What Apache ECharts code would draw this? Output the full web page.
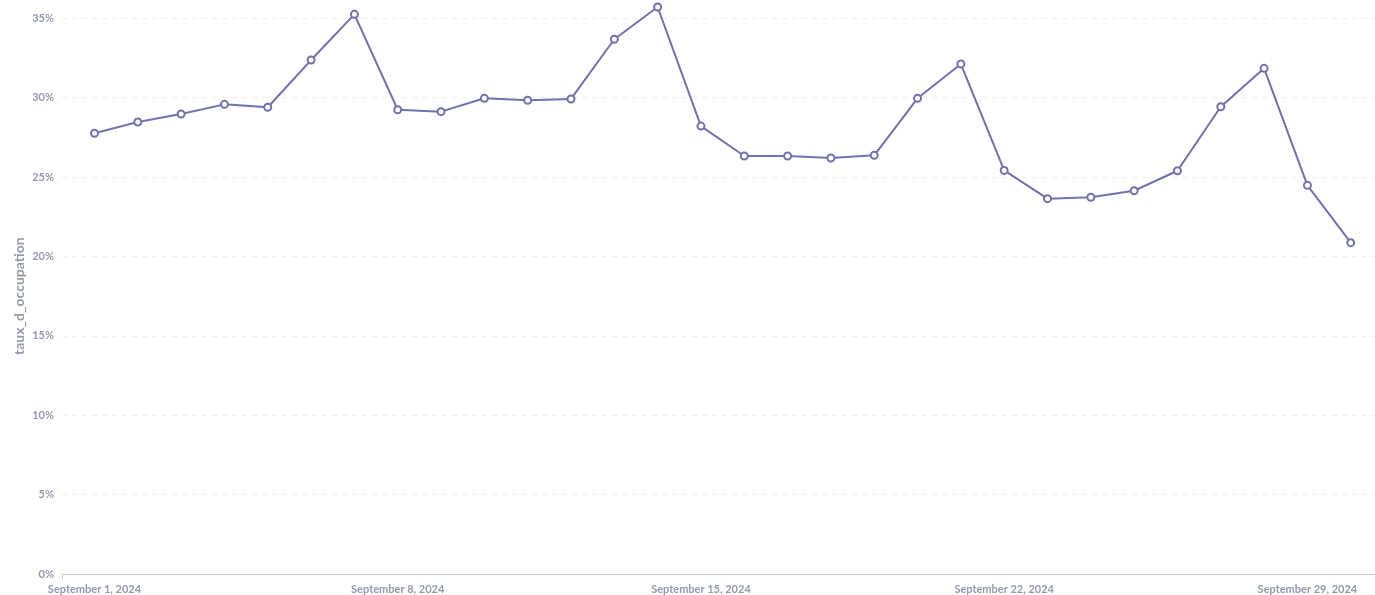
<!DOCTYPE html>
<html>
<head>
<meta charset="utf-8">
<script src="https://cdn.jsdelivr.net/npm/echarts@6/dist/echarts.min.js"></script>
<style>
html,body{margin:0;padding:0;background:#fff;}
#chart{width:1375px;height:595px;}
</style>
</head>
<body>
<div id="chart"></div>
<script>
const dates = [
  "September 1, 2024","September 2, 2024","September 3, 2024","September 4, 2024","September 5, 2024",
  "September 6, 2024","September 7, 2024","September 8, 2024","September 9, 2024","September 10, 2024",
  "September 11, 2024","September 12, 2024","September 13, 2024","September 14, 2024","September 15, 2024",
  "September 16, 2024","September 17, 2024","September 18, 2024","September 19, 2024","September 20, 2024",
  "September 21, 2024","September 22, 2024","September 23, 2024","September 24, 2024","September 25, 2024",
  "September 26, 2024","September 27, 2024","September 28, 2024","September 29, 2024","September 30, 2024"
];
const tauxOccupation = [
  27.76, 28.47, 28.97, 29.58, 29.40, 32.37, 35.25, 29.24, 29.12, 29.96,
  29.84, 29.92, 33.68, 35.71, 28.21, 26.33, 26.33, 26.20, 26.37, 29.96,
  32.12, 25.42, 23.64, 23.73, 24.14, 25.40, 29.43, 31.85, 24.48, 20.87
];
const labelDays = [1, 8, 15, 22, 29];
const yTicks = [0, 5, 10, 15, 20, 25, 30, 35];

const xMin = 0.25, xMax = 30.56;
const textColor = '#949AAB';
const fontFamily = 'Lato, "Noto Sans", sans-serif';

const chart = echarts.init(document.getElementById('chart'), null, {renderer: 'canvas'});
chart.setOption({
  animation: false,
  backgroundColor: '#fff',
  grid: {left: 62, right: 0, top: 18.3, bottom: 20.9, containLabel: false},
  xAxis: {
    type: 'value',
    min: xMin,
    max: xMax,
    axisLine: {show: true, lineStyle: {color: '#C6C8D2', width: 1}},
    axisTick: {show: true, customValues: [xMin], length: 5, lineStyle: {color: '#C6C8D2'}},
    splitLine: {show: false},
    axisLabel: {
      customValues: labelDays,
      color: textColor,
      fontFamily: fontFamily,
      fontWeight: 'bold',
      fontSize: 11,
      margin: 10,
      formatter: v => dates[Math.round(v) - 1]
    }
  },
  yAxis: {
    type: 'value',
    min: 0,
    max: 35,
    interval: 5,
    name: 'taux_d_occupation',
    nameLocation: 'middle',
    nameGap: 36,
    nameMoveOverlap: false,
    nameTextStyle: {color: textColor, fontFamily: fontFamily, fontWeight: 'bold', fontSize: 14},
    axisLine: {show: false},
    axisTick: {show: false},
    axisLabel: {
      customValues: yTicks,
      color: textColor,
      fontFamily: fontFamily,
      fontWeight: 'bold',
      fontSize: 11,
      margin: 8,
      formatter: v => v + '%'
    },
    splitLine: {show: true, lineStyle: {color: '#EDEEF1', type: [5, 5], width: 1}}
  },
  series: [{
    type: 'line',
    clip: false,
    data: tauxOccupation.map((v, i) => [i + 1, v]),
    lineStyle: {color: '#7172AD', width: 2},
    itemStyle: {color: '#fff', borderColor: '#7172AD', borderWidth: 2},
    symbol: 'circle',
    symbolSize: 7,
    showSymbol: true
  }]
});
</script>
</body>
</html>
